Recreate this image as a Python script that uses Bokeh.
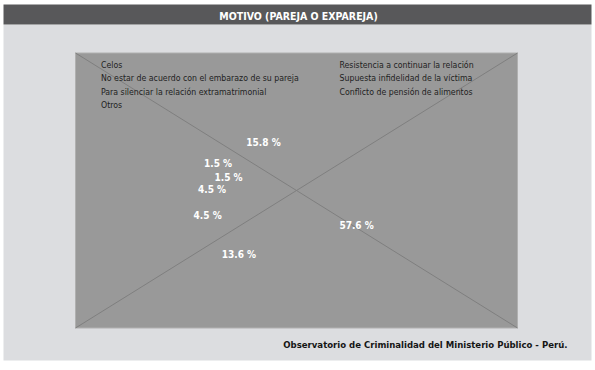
import numpy as np
from bokeh.plotting import figure
from bokeh.models import Range1d
from bokeh.core.properties import value
from bokeh.embed import file_html
from bokeh.resources import INLINE

# ---- data ----
title = "MOTIVO (PAREJA O EXPAREJA)"
source_note = "Observatorio de Criminalidad del Ministerio Público - Perú."
legend_left = [
    "Celos",
    "No estar de acuerdo con el embarazo de su pareja",
    "Para silenciar la relación extramatrimonial",
    "Otros",
]
legend_right = [
    "Resistencia a continuar la relación",
    "Supuesta infidelidad de la víctima",
    "Conflicto de pensión de alimentos",
]
# slice values, clockwise from 12 o'clock
slice_values = [57.6, 13.6, 4.5, 4.5, 1.5, 1.5, 15.8]
# label distance from pie centre (layout, px)
label_radius = [58, 76, 93, 91, 79, 95, 77]

FONT = value("'DejaVu Sans Condensed', 'DejaVu Sans', sans-serif")

W, H = 595, 370
p = figure(width=W, height=H, x_range=Range1d(0, W), y_range=Range1d(H, 0),
           output_backend="svg", toolbar_location=None, min_border=0)
p.axis.visible = False
p.grid.visible = False
p.outline_line_color = None
p.background_fill_color = "white"
p.border_fill_color = "white"

# light panel and header band
p.quad(left=3, right=591, top=24, bottom=360, fill_color="#dcdde0", line_color=None)
p.quad(left=3, right=591, top=4, bottom=24, fill_color="#58585a", line_color=None)
p.text(x=[298], y=[15.5], text=[title], text_color="white", text_font=FONT,
       text_font_style="bold", text_font_size="10.5px", text_align="center",
       text_baseline="middle")

# placeholder plot area with crossing lines
L, R, T, B = 75, 517, 52.5, 327.5
p.quad(left=L, right=R, top=T, bottom=B, fill_color="#999999", line_color="#b0b0b0", line_width=1)
p.segment(x0=[L, L], y0=[T, B], x1=[R, R], y1=[B, T], line_color="#7f7f7f", line_width=1)

# legend texts
row_h = 13.5
p.text(x=[100.5] * len(legend_left), y=[64 + row_h * i for i in range(len(legend_left))],
       text=legend_left, text_color="#222222", text_font=FONT, text_font_size="8.7px",
       text_align="left", text_baseline="middle")
p.text(x=[339] * len(legend_right), y=[64 + row_h * i for i in range(len(legend_right))],
       text=legend_right, text_color="#222222", text_font=FONT, text_font_size="8.7px",
       text_align="left", text_baseline="middle")

# percentage labels positioned by pie geometry
vals = np.array(slice_values)
frac = vals / vals.sum()
mid = (np.cumsum(frac) - frac / 2) * 2 * np.pi
cx, cy = 300, 210
rad = np.array(label_radius)
lx = cx + rad * np.sin(mid)
ly = cy - rad * np.cos(mid)
labels = [f"{v:.1f} %" for v in slice_values]
p.text(x=list(lx), y=list(ly), text=labels, text_color="white", text_font=FONT,
       text_font_style="bold", text_font_size="10px", text_align="center",
       text_baseline="middle")

# source note
p.text(x=[567], y=[344], text=[source_note], text_color="#151515", text_font=FONT,
       text_font_style="bold", text_font_size="9.5px", text_align="right",
       text_baseline="middle")

open("out.html", "w").write(file_html(p, INLINE))
